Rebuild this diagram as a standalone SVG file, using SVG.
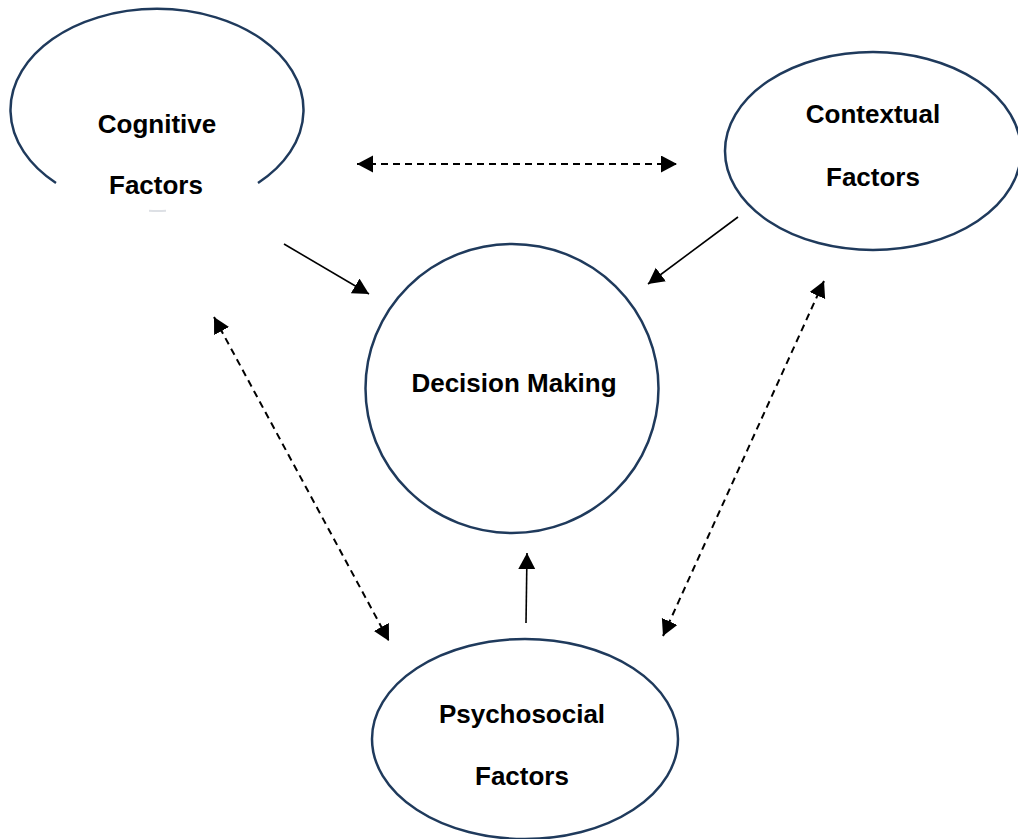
<svg xmlns="http://www.w3.org/2000/svg" width="1018" height="839" viewBox="0 0 1018 839">
<style>
.node{fill:#ffffff;stroke:#1f3a5c;stroke-width:2.5}
.lbl{font-family:"Liberation Sans",Arial,sans-serif;font-weight:bold;font-size:26px;fill:#000000;text-anchor:middle}
.solid{stroke:#000000;stroke-width:1.6;fill:none}
.dash{stroke:#000000;stroke-width:2;fill:none;stroke-dasharray:7 5}
</style>
<defs>
<marker id="ah" markerUnits="userSpaceOnUse" markerWidth="17" markerHeight="18" refX="16" refY="8.5" orient="auto-start-reverse">
<path d="M0,0 L16,8.5 L0,17 z" fill="#000000"/>
</marker>
</defs>
<rect width="1018" height="839" fill="#ffffff"/>
<g id="connectors">
<line class="dash" x1="357" y1="164" x2="677" y2="164" marker-start="url(#ah)" marker-end="url(#ah)"/>
<line class="dash" x1="214" y1="317" x2="389" y2="641" marker-start="url(#ah)" marker-end="url(#ah)"/>
<line class="dash" x1="824" y1="281" x2="663" y2="636" marker-start="url(#ah)" marker-end="url(#ah)"/>
<line class="solid" x1="284" y1="244" x2="369" y2="294" marker-end="url(#ah)"/>
<line class="solid" x1="738" y1="217" x2="648" y2="284" marker-end="url(#ah)"/>
<line class="solid" x1="526" y1="623" x2="527" y2="553" marker-end="url(#ah)"/>
</g>
<g id="cognitive">
<path class="node" d="M56,183 A146.5,101 0 1 1 258,183"/>
<path d="M149,210.8 A146.5,101 0 0 0 166,210.8" fill="none" stroke="#dde0e5" stroke-width="2"/>
<text class="lbl" x="157" y="133">Cognitive</text>
<text class="lbl" x="156" y="194">Factors</text>
</g>
<g id="contextual">
<ellipse class="node" cx="873" cy="151" rx="148" ry="99"/>
<text class="lbl" x="873" y="123">Contextual</text>
<text class="lbl" x="873" y="186">Factors</text>
</g>
<g id="decision">
<ellipse class="node" cx="512" cy="388.5" rx="146.5" ry="144.5"/>
<text class="lbl" x="514" y="392">Decision Making</text>
</g>
<g id="psychosocial">
<ellipse class="node" cx="525" cy="739" rx="153" ry="100"/>
<text class="lbl" x="522" y="723">Psychosocial</text>
<text class="lbl" x="522" y="785">Factors</text>
</g>
</svg>
